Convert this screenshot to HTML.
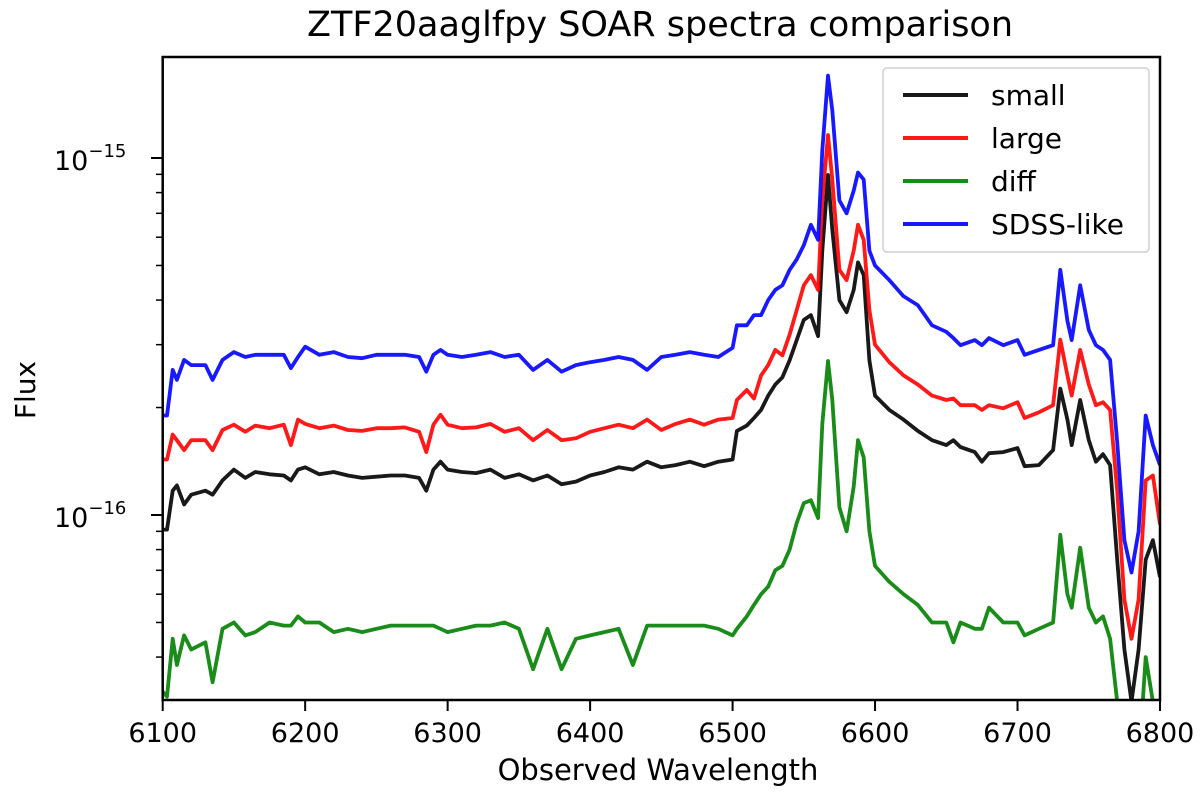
<!DOCTYPE html>
<html><head><meta charset="utf-8"><style>
html,body{margin:0;padding:0;background:#fff;}
svg{display:block;font-family:"DejaVu Sans","Liberation Sans",sans-serif;}
</style></head><body>
<svg id="chart" width="1200" height="794" viewBox="0 0 1200 794" xmlns="http://www.w3.org/2000/svg">
<defs><clipPath id="plotclip"><rect x="162.7" y="57" width="997.3" height="643"/></clipPath></defs>
<text x="660" y="36" font-size="35" text-anchor="middle" fill="#000">ZTF20aaglfpy SOAR spectra comparison</text>
<g id="series" clip-path="url(#plotclip)"></g>
<g id="axes"></g>
<text x="658" y="780" font-size="29" text-anchor="middle" fill="#000">Observed Wavelength</text>
<text transform="translate(35,390) rotate(-90)" font-size="28" text-anchor="middle" fill="#000">Flux</text>
<g id="legend"></g>
</svg>
<script>
// wavelengths (Angstrom)
const wavelengths = [6100,6103,6107,6110,6115,6120,6130,6135,6142,6150,6158,6165,6175,6185,6190,6195,6200,6210,6220,6230,6240,6250,6260,6270,6280,6285,6290,6295,6300,6310,6320,6330,6340,6350,6360,6370,6380,6390,6400,6410,6420,6430,6440,6450,6460,6470,6480,6490,6500,6503,6510,6515,6520,6525,6530,6535,6540,6545,6550,6555,6560,6563,6567,6570,6575,6580,6585,6588,6592,6596,6600,6610,6620,6630,6640,6650,6655,6660,6670,6675,6680,6690,6700,6705,6715,6725,6730,6735,6738,6744,6750,6755,6760,6765,6770,6775,6780,6785,6790,6795,6800];
// flux in units of 1e-16
const smallFlux = [0.91,0.91,1.17,1.21,1.07,1.14,1.17,1.14,1.25,1.34,1.27,1.32,1.30,1.29,1.25,1.34,1.36,1.30,1.32,1.29,1.27,1.28,1.29,1.29,1.27,1.17,1.34,1.41,1.34,1.32,1.31,1.34,1.27,1.30,1.25,1.29,1.22,1.24,1.29,1.32,1.36,1.34,1.41,1.36,1.38,1.41,1.37,1.41,1.43,1.72,1.78,1.87,1.97,2.16,2.32,2.43,2.71,3.09,3.52,3.63,3.17,5.5,8.96,6.3,4.0,3.7,4.27,5.1,4.7,2.71,2.16,1.97,1.85,1.72,1.62,1.57,1.62,1.55,1.50,1.41,1.49,1.50,1.54,1.37,1.38,1.52,2.26,1.85,1.57,2.10,1.62,1.41,1.48,1.38,0.75,0.42,0.30,0.42,0.75,0.85,0.67];
const largeFlux = [1.43,1.43,1.68,1.62,1.52,1.62,1.62,1.52,1.73,1.79,1.71,1.78,1.75,1.79,1.57,1.85,1.80,1.75,1.78,1.73,1.72,1.75,1.75,1.76,1.71,1.50,1.79,1.91,1.79,1.75,1.76,1.80,1.71,1.75,1.62,1.73,1.62,1.64,1.71,1.75,1.79,1.75,1.85,1.73,1.80,1.85,1.79,1.85,1.87,2.10,2.24,2.12,2.46,2.63,2.90,2.80,3.20,3.75,4.40,4.70,4.27,7.6,11.6,8.7,4.86,4.55,5.5,6.5,5.9,3.75,3.00,2.68,2.46,2.32,2.16,2.10,2.12,2.03,2.03,1.97,2.03,1.99,2.07,1.87,1.94,2.03,3.10,2.46,2.16,2.90,2.32,2.03,2.07,1.97,1.17,0.58,0.45,0.58,1.25,1.29,0.94];
const diffFlux = [0.32,0.31,0.45,0.38,0.46,0.42,0.44,0.34,0.48,0.50,0.46,0.47,0.50,0.49,0.49,0.52,0.50,0.50,0.47,0.48,0.47,0.48,0.49,0.49,0.49,0.49,0.49,0.48,0.47,0.48,0.49,0.49,0.50,0.48,0.37,0.48,0.37,0.45,0.46,0.47,0.48,0.38,0.49,0.49,0.49,0.49,0.49,0.48,0.46,0.48,0.52,0.56,0.60,0.63,0.70,0.72,0.80,0.95,1.08,1.10,0.98,1.8,2.7,2.1,1.05,0.90,1.2,1.62,1.45,0.90,0.72,0.65,0.60,0.56,0.50,0.50,0.44,0.50,0.48,0.48,0.55,0.50,0.50,0.46,0.48,0.50,0.88,0.60,0.55,0.81,0.55,0.50,0.52,0.45,0.30,0.18,0.15,0.20,0.40,0.30,0.20];
const sdssFlux = [1.90,1.90,2.55,2.39,2.72,2.63,2.63,2.39,2.72,2.86,2.77,2.81,2.81,2.81,2.58,2.77,2.96,2.81,2.86,2.77,2.75,2.81,2.81,2.81,2.77,2.52,2.81,2.90,2.81,2.77,2.81,2.86,2.77,2.81,2.55,2.72,2.52,2.63,2.68,2.72,2.77,2.72,2.55,2.77,2.81,2.86,2.81,2.77,2.94,3.40,3.40,3.63,3.63,4.00,4.27,4.40,4.86,5.20,5.70,6.50,5.90,10.5,17.0,13.6,7.6,7.0,8.1,9.1,8.7,5.5,5.0,4.55,4.10,3.87,3.40,3.26,3.13,2.99,3.09,2.99,3.13,2.99,3.09,2.81,2.90,2.99,4.86,3.50,3.09,4.40,3.30,2.99,2.90,2.72,1.60,0.85,0.69,0.90,1.90,1.57,1.38];
const xTicks = [6100,6200,6300,6400,6500,6600,6700,6800];
const yMajor = [-15,-16];

const NS = "http://www.w3.org/2000/svg";
const X0 = 162.7, XPER = 1.4247, Y15 = 158, DEC = 357;
function xs(w){ return X0 + (w - 6100) * XPER; }
function ys(v){ return Y15 + (-15 - Math.log10(v * 1e-16)) * DEC; }
function mk(tag, attrs, parent){ const e = document.createElementNS(NS, tag); for (const k in attrs) e.setAttribute(k, attrs[k]); parent.appendChild(e); return e; }

const seriesG = document.getElementById('series');
const series = [
  {name:'diff', vals:diffFlux, color:'#008000'},
  {name:'small', vals:smallFlux, color:'#000000'},
  {name:'large', vals:largeFlux, color:'#ff0000'},
  {name:'SDSS-like', vals:sdssFlux, color:'#0000ff'}
];
const drawOrder = ['small','large','diff','SDSS-like'];
drawOrder.forEach(n => {
  const s = series.find(q => q.name === n);
  const d = wavelengths.map((w,i) => (i ? 'L' : 'M') + xs(w).toFixed(1) + ',' + ys(s.vals[i]).toFixed(1)).join('');
  const p = mk('path', {d:d, fill:'none', stroke:s.color, 'stroke-width':3.8, 'stroke-linejoin':'round', opacity:0.9}, seriesG);
  
  
});

const axes = document.getElementById('axes');
const frame = mk('rect', {x:162.7, y:57, width:997.3, height:643, fill:'none', stroke:'#000', 'stroke-width':2.5}, axes);


xTicks.forEach(t => {
  const x = xs(t);
  const tk = mk('line', {x1:x, x2:x, y1:700, y2:711, stroke:'#000', 'stroke-width':2}, axes);
  
  
  const lb = mk('text', {x:x, y:742, 'font-size':27, 'text-anchor':'middle', fill:'#000'}, axes);
  lb.textContent = t;
  
  
});
yMajor.forEach(e => {
  const y = Y15 + (-15 - e) * DEC;
  const tk = mk('line', {x1:151, x2:162.7, y1:y, y2:y, stroke:'#000', 'stroke-width':2}, axes);
  
  
  const lb = mk('text', {x:54, y:y + 12, 'font-size':27, fill:'#000'}, axes);
  
  
  lb.appendChild(document.createTextNode('10'));
  const sup = mk('tspan', {dy:-13, 'font-size':18}, lb);
  sup.textContent = '\u2212' + Math.abs(e);
  for (let m = 2; m <= 9; m++) {
    const yy = Y15 + (-15 - (e + Math.log10(m))) * DEC;
    if (yy < 57 || yy > 701) continue;
    const mt = mk('line', {x1:156, x2:162.7, y1:yy, y2:yy, stroke:'#000', 'stroke-width':1.5}, axes);
    
    
  }
});
[3,4,5,6,7,8,9].forEach(m => {
  const yy = Y15 + (-15 - (-17 + Math.log10(m))) * DEC;
  if (yy < 57 || yy > 701) return;
  const mt = mk('line', {x1:156, x2:162.7, y1:yy, y2:yy, stroke:'#000', 'stroke-width':1.5}, axes);
  
  
});

const leg = document.getElementById('legend');
const box = mk('rect', {x:883, y:68, width:266, height:184, rx:4, fill:'#fff', 'fill-opacity':0.85, stroke:'#d0d0d0', 'stroke-width':1.5}, leg);


const legOrder = ['small','large','diff','SDSS-like'];
legOrder.forEach((n, i) => {
  const s = series.find(q => q.name === n);
  const y = 95 + i * 43;
  const ln = mk('line', {x1:903, x2:968, y1:y, y2:y, stroke:s.color, 'stroke-width':4, opacity:0.9}, leg);
  
  
  const tx = mk('text', {x:991, y:y + 10, 'font-size':28, fill:'#000'}, leg);
  tx.textContent = n;
  
  
});
</script>
</body></html>
